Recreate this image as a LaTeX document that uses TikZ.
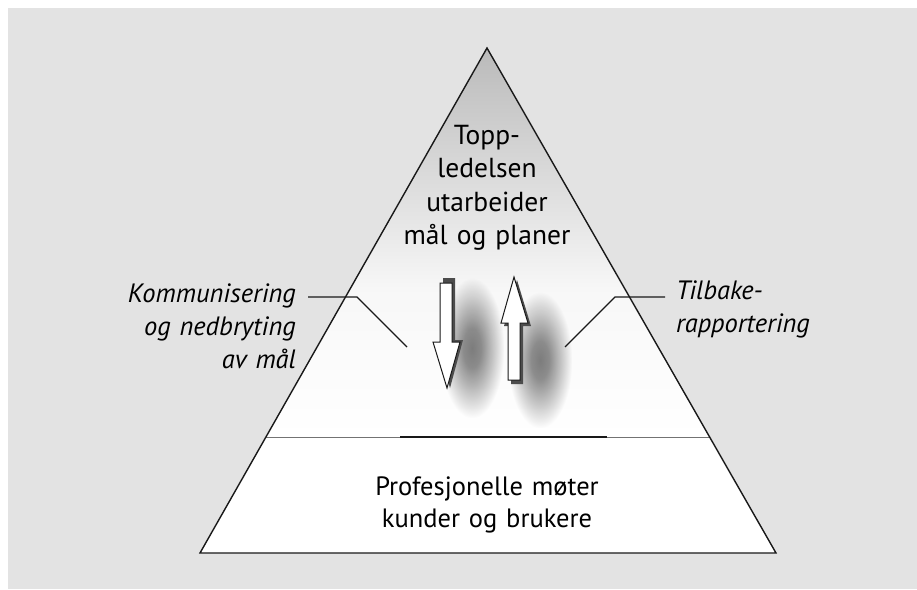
\documentclass[tikz,border=0pt]{standalone}
\usepackage{fontspec}
\setmainfont[WordSpace=1.25]{PT Sans}
\usetikzlibrary{fadings,calc}
\pgfdeclareradialshading{blobshade}{\pgfpointorigin}{color(0bp)=(pgftransparent!0); color(7bp)=(pgftransparent!12); color(25bp)=(pgftransparent!100); color(50bp)=(pgftransparent!100)}
\pgfdeclarefading{blob}{\pgfuseshading{blobshade}}
\begin{document}
\begin{tikzpicture}[x=1pt,y=-1pt,
  toplbl/.style={font=\fontsize{27.5}{33.5}\selectfont, text=black, align=center, inner sep=0pt},
  botlbl/.style={font=\fontsize{26.5}{32}\selectfont, text=black, align=center, inner sep=0pt},
  ilbl/.style={font=\fontsize{26.5}{33}\selectfont\itshape, text=black, inner sep=0pt},
  leader/.style={draw=black!90, line width=1.1pt},
  arr/.style={draw=black!90, fill=white, line width=1pt},
  arrshadow/.style={fill=black!70, draw=none},
  blobfill/.style={fill=black, fill opacity=0.5, path fading=blob}]
\useasboundingbox (0,0) rectangle (917,589);
\fill[white] (0,0) rectangle (917,589);
\fill[black!11] (8,8) rectangle (917,589);
% triangle corners
\coordinate (apex) at (487,48);
\coordinate (bl) at (200,553);
\coordinate (br) at (776,553);
\coordinate (ml) at ($(apex)!{(437-48)/(553-48)}!(bl)$);
\coordinate (mr) at ($(apex)!{(437-48)/(553-48)}!(br)$);
% upper part gradient
\begin{scope}
\clip (apex) -- (ml) -- (mr) -- cycle;
\fill[white] (200,40) rectangle (776,437);
\shade[top color=black!27, bottom color=black!3] (200,48) rectangle (776,290);
\shade[top color=black!3, bottom color=white] (200,289) rectangle (776,437);
% blurry shadows
\fill[blobfill] (440,278) rectangle (504,418);
\fill[blobfill] (508,292) rectangle (572,428);
\end{scope}
% lower part
\fill[white] (ml) -- (bl) -- (br) -- (mr) -- cycle;
% divider
\draw[black!55, line width=1pt] (ml) -- (mr);
\coordinate (d1) at (400,437);
\coordinate (d2) at (607,437);
\draw[black!90, line width=1.6pt] (d1) -- (d2);
% outline
\draw[black!90, line width=1.4pt, line join=miter] (apex) -- (bl) -- (br) -- cycle;
% texts
\node[toplbl] (top) at (487,188) {Topp-\\ledelsen\\utarbeider\\mål og planer};
\node[botlbl] (bottom) at (487,505) {Profesjonelle møter\\kunder og brukere};
\node[ilbl, align=right, anchor=east] (left) at (296,326) {Kommunisering\\og nedbryting\\av mål};
\node[ilbl, align=left, anchor=west] (right) at (676,309) {Tilbake-\\rapportering};
% leaders
\coordinate (l1) at (308,297);
\coordinate (l2) at (357,297);
\coordinate (l3) at (407,347);
\draw[leader] (l1) -- (l2) -- (l3);
\coordinate (r1) at (665,297);
\coordinate (r2) at (615,297);
\coordinate (r3) at (565,347);
\draw[leader] (r1) -- (r2) -- (r3);
% down arrow
\fill[arrshadow] (443,278) -- (455,278) -- (455,340) -- (463,340) -- (450,388) -- (437,342) -- (443,342) -- cycle;
\draw[arr] (440,283) -- (452,283) -- (452,342) -- (460,342) -- (447,388) -- (433,342) -- (440,342) -- cycle;
% up arrow
\fill[arrshadow] (517,280) -- (531,326) -- (523,326) -- (523,384) -- (511,384) -- (511,326) -- (504,326) -- cycle;
\draw[arr] (514,277) -- (528,323) -- (520,323) -- (520,380) -- (508,380) -- (508,323) -- (501,323) -- cycle;
\end{tikzpicture}
\end{document}
